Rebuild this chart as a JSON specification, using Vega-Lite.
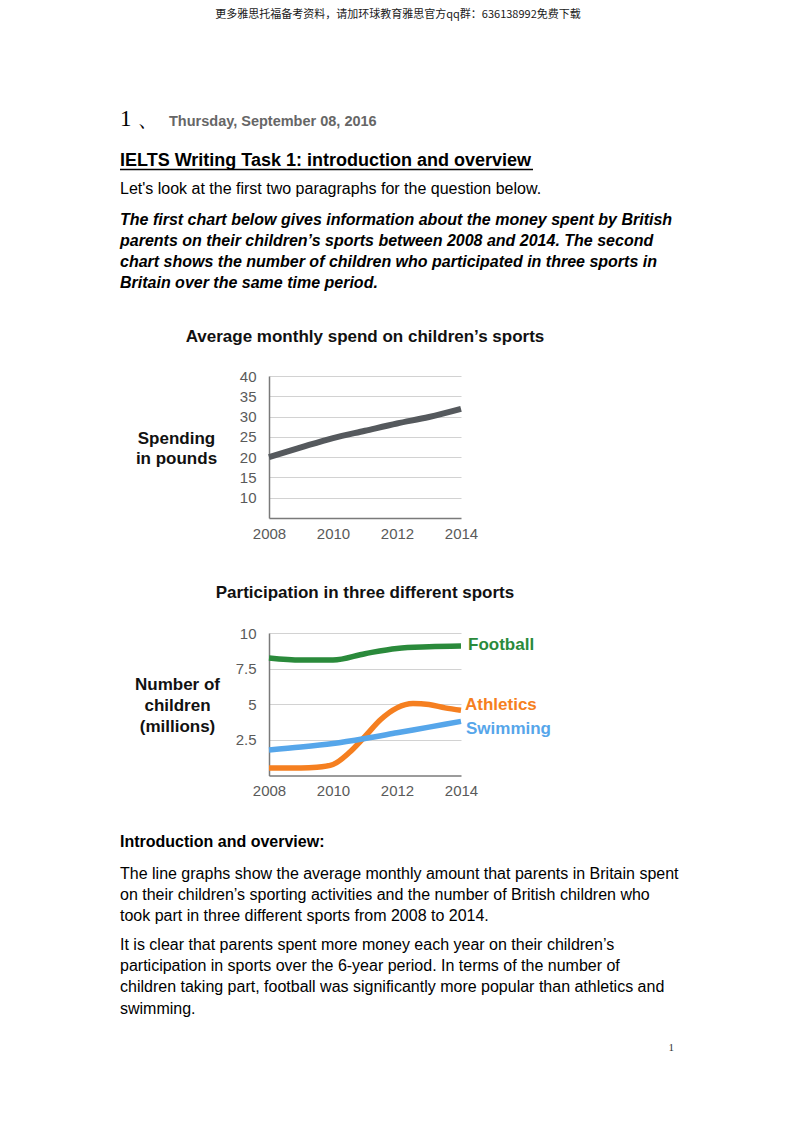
{
  "$schema": "https://vega.github.io/schema/vega-lite/v6.json",
  "autosize": {"type": "pad"},
  "padding": {"left": 119, "top": 9, "right": 0, "bottom": 0},
  "background": "white",
  "columns": 2,
  "align": "each",
  "spacing": 0,
  "bounds": "flush",
  "config": {
    "view": {"stroke": null},
    "font": "Liberation Sans",
    "text": {"font": "Liberation Sans", "color": "#000000"},
    "axis": {"labelFont": "Liberation Sans", "titleFont": "Liberation Sans"},
    "title": {"font": "Liberation Sans"}
  },
  "concat": [
    {"width": 149, "height": 107.5, "data": {"values": []}, "mark": "point", "encoding": {}},
    {
      "width": 258, "height": 107.5,
      "data": {"values": [{"text": "更多雅思托福备考资料，请加环球教育雅思官方qq群：636138992免费下载"}]},
      "mark": {"type": "text", "align": "center", "baseline": "alphabetic", "font": "Noto Sans CJK SC", "fontSize": 11, "color": "#1a1a1a"},
      "encoding": {"text": {"field": "text"}, "y": {"value": 0}}
    },

    {
      "width": 149, "height": 39.5,
      "layer": [
        {
          "data": {"values": [{"text": "1  、"}]},
          "mark": {"type": "text", "align": "left", "baseline": "alphabetic", "font": "Liberation Serif", "fontSize": 23, "color": "#000000"},
          "encoding": {"text": {"field": "text"}, "x": {"value": 0}, "y": {"value": 0}}
        },
        {
          "data": {"values": [{"text": "Thursday, September 08, 2016"}]},
          "mark": {"type": "text", "align": "left", "baseline": "alphabetic", "dx": 49, "fontSize": 14.5, "fontWeight": "bold", "color": "#666666"},
          "encoding": {"text": {"field": "text"}, "x": {"value": 0}, "y": {"value": 0}}
        }
      ]
    },
    {"width": 1, "height": 1, "data": {"values": []}, "mark": "point", "encoding": {}},

    {
      "width": 149, "height": 28,
      "data": {"values": [{"text": "IELTS Writing Task 1: introduction and overview"}]},
      "layer": [
        {
          "mark": {"type": "text", "align": "left", "baseline": "alphabetic", "fontSize": 18, "fontWeight": "bold", "color": "#000000"},
          "encoding": {"text": {"field": "text"}, "x": {"value": 0}, "y": {"value": 0}}
        },
        {
          "mark": {"type": "rule", "color": "#000000", "strokeWidth": 1.5, "yOffset": 3.5},
          "encoding": {"x": {"value": 0}, "x2": {"value": "width"}, "y": {"value": 0}}
        }
      ]
    },
    {
      "width": 264, "height": 28,
      "data": {"values": [{"text": "IELTS Writing Task 1: introduction and overview"}]},
      "mark": {"type": "rule", "color": "#000000", "strokeWidth": 1.5, "yOffset": 3.5},
      "encoding": {"x": {"value": 0}, "x2": {"value": "width"}, "y": {"value": 0}}
    },

    {
      "width": 149, "height": 31,
      "data": {"values": [{"text": "Let's look at the first two paragraphs for the question below."}]},
      "mark": {"type": "text", "align": "left", "baseline": "alphabetic", "fontSize": 16, "color": "#000000"},
      "encoding": {"text": {"field": "text"}, "x": {"value": 0}, "y": {"value": 0}}
    },
    {"width": 1, "height": 1, "data": {"values": []}, "mark": "point", "encoding": {}},

    {
      "width": 149, "height": 151,
      "data": {"values": [{"text": "The first chart below gives information about the money spent by British\nparents on their children’s sports between 2008 and 2014. The second\nchart shows the number of children who participated in three sports in\nBritain over the same time period."}]},
      "mark": {"type": "text", "align": "left", "baseline": "alphabetic", "fontSize": 16, "fontWeight": "bold", "fontStyle": "italic", "lineBreak": "\n", "lineHeight": 21, "color": "#000000"},
      "encoding": {"text": {"field": "text"}, "x": {"value": 0}, "y": {"value": 0}}
    },
    {"width": 1, "height": 1, "data": {"values": []}, "mark": "point", "encoding": {}},

    {"width": 149, "height": 256.7, "data": {"values": []}, "mark": "point", "encoding": {}},
    {
      "width": 192, "height": 142,
      "title": {"text": "Average monthly spend on children’s sports", "frame": "group", "anchor": "middle", "fontSize": 17, "fontWeight": "bold", "color": "#111111", "baseline": "alphabetic", "offset": 10},
      "data": {"values": [
        {"year": 2008, "spend": 20.0},
        {"year": 2009, "spend": 22.4},
        {"year": 2010, "spend": 24.7},
        {"year": 2011, "spend": 26.5},
        {"year": 2012, "spend": 28.3},
        {"year": 2013, "spend": 29.9},
        {"year": 2014, "spend": 31.9}
      ]},
      "mark": {"type": "line", "color": "#55595d", "strokeWidth": 6, "interpolate": "monotone"},
      "encoding": {
        "x": {"field": "year", "type": "quantitative", "scale": {"domain": [2008, 2014], "nice": false, "zero": false},
          "axis": {"values": [2008, 2010, 2012, 2014], "format": "d", "title": null, "grid": false, "ticks": false, "labelFlush": false, "labelPadding": 8, "labelFontSize": 15, "labelColor": "#5a5a5a", "domainColor": "#7a7a7a", "domainWidth": 1.5}},
        "y": {"field": "spend", "type": "quantitative", "scale": {"domain": [5, 40], "nice": false, "zero": false},
          "axis": {"values": [10, 15, 20, 25, 30, 35, 40], "format": "d", "title": ["Spending", "in pounds"], "titleAngle": 0, "titleAlign": "center", "titleBaseline": "middle", "titleX": -93, "titleY": 62.3, "titleFontSize": 17, "titleFontWeight": "bold", "titleColor": "#111111", "titleLineHeight": 20.5, "grid": true, "gridColor": "#d2d2d2", "gridWidth": 1, "ticks": false, "labelFlush": false, "labelPadding": 13, "labelFontSize": 15, "labelColor": "#5a5a5a", "domainColor": "#7a7a7a", "domainWidth": 1.5}}
      }
    },

    {"width": 149, "height": 213.6, "data": {"values": []}, "mark": "point", "encoding": {}},
    {
      "width": 192, "height": 142.6,
      "title": {"text": "Participation in three different sports", "frame": "group", "anchor": "middle", "fontSize": 17, "fontWeight": "bold", "color": "#111111", "baseline": "alphabetic", "offset": 11},
      "data": {"values": [
        {"year": 2008, "sport": "Football", "value": 8.25},
        {"year": 2009, "sport": "Football", "value": 8.1},
        {"year": 2010, "sport": "Football", "value": 8.1},
        {"year": 2011, "sport": "Football", "value": 8.55},
        {"year": 2012, "sport": "Football", "value": 8.92},
        {"year": 2013, "sport": "Football", "value": 9.03},
        {"year": 2014, "sport": "Football", "value": 9.08},
        {"year": 2008, "sport": "Athletics", "value": 0.53},
        {"year": 2009, "sport": "Athletics", "value": 0.53},
        {"year": 2009.5, "sport": "Athletics", "value": 0.58},
        {"year": 2010, "sport": "Athletics", "value": 0.78},
        {"year": 2010.5, "sport": "Athletics", "value": 1.6},
        {"year": 2011, "sport": "Athletics", "value": 2.75},
        {"year": 2011.5, "sport": "Athletics", "value": 3.95},
        {"year": 2012, "sport": "Athletics", "value": 4.75},
        {"year": 2012.5, "sport": "Athletics", "value": 5.05},
        {"year": 2013, "sport": "Athletics", "value": 4.98},
        {"year": 2013.5, "sport": "Athletics", "value": 4.75},
        {"year": 2014, "sport": "Athletics", "value": 4.58},
        {"year": 2008, "sport": "Swimming", "value": 1.8},
        {"year": 2009, "sport": "Swimming", "value": 2.0},
        {"year": 2010, "sport": "Swimming", "value": 2.25},
        {"year": 2011, "sport": "Swimming", "value": 2.6},
        {"year": 2012, "sport": "Swimming", "value": 3.0},
        {"year": 2013, "sport": "Swimming", "value": 3.4},
        {"year": 2014, "sport": "Swimming", "value": 3.8}
      ]},
      "encoding": {
        "x": {"field": "year", "type": "quantitative", "scale": {"domain": [2008, 2014], "nice": false, "zero": false},
          "axis": {"values": [2008, 2010, 2012, 2014], "format": "d", "title": null, "grid": false, "ticks": false, "labelFlush": false, "labelPadding": 8, "labelFontSize": 15, "labelColor": "#5a5a5a", "domainColor": "#7a7a7a", "domainWidth": 1.5}},
        "y": {"field": "value", "type": "quantitative", "scale": {"domain": [0, 10], "nice": false, "zero": false},
          "axis": {"values": [2.5, 5, 7.5, 10], "labelExpr": "'' + datum.value", "title": ["Number of", "children", "(millions)"], "titleAngle": 0, "titleAlign": "center", "titleBaseline": "middle", "titleX": -92, "titleY": 51.8, "titleFontSize": 17, "titleFontWeight": "bold", "titleColor": "#111111", "titleLineHeight": 21, "grid": true, "gridColor": "#d2d2d2", "gridWidth": 1, "ticks": false, "labelFlush": false, "labelPadding": 13, "labelFontSize": 15, "labelColor": "#5a5a5a", "domainColor": "#7a7a7a", "domainWidth": 1.5}},
        "color": {"field": "sport", "type": "nominal", "scale": {"domain": ["Football", "Athletics", "Swimming"], "range": ["#2a8a3b", "#f57f20", "#56a6ea"]}, "legend": null}
      },
      "layer": [
        {"mark": {"type": "line", "strokeWidth": 5.5, "interpolate": "monotone"}},
        {
          "transform": [{"filter": "datum.year == 2014 && datum.sport == 'Football'"}],
          "mark": {"type": "text", "align": "left", "baseline": "middle", "dx": 7, "dy": -1, "fontSize": 17, "fontWeight": "bold"},
          "encoding": {"text": {"field": "sport"}}
        },
        {
          "transform": [{"filter": "datum.year == 2014 && datum.sport == 'Athletics'"}],
          "mark": {"type": "text", "align": "left", "baseline": "middle", "dx": 4, "dy": -5.5, "fontSize": 17, "fontWeight": "bold"},
          "encoding": {"text": {"field": "sport"}}
        },
        {
          "transform": [{"filter": "datum.year == 2014 && datum.sport == 'Swimming'"}],
          "mark": {"type": "text", "align": "left", "baseline": "middle", "dx": 5, "dy": 7.5, "fontSize": 17, "fontWeight": "bold"},
          "encoding": {"text": {"field": "sport"}}
        }
      ]
    },

    {
      "width": 149, "height": 31.5,
      "data": {"values": [{"text": "Introduction and overview:"}]},
      "mark": {"type": "text", "align": "left", "baseline": "alphabetic", "fontSize": 16, "fontWeight": "bold", "color": "#000000"},
      "encoding": {"text": {"field": "text"}, "x": {"value": 0}, "y": {"value": 0}}
    },
    {"width": 1, "height": 1, "data": {"values": []}, "mark": "point", "encoding": {}},

    {
      "width": 149, "height": 71,
      "data": {"values": [{"text": "The line graphs show the average monthly amount that parents in Britain spent\non their children’s sporting activities and the number of British children who\ntook part in three different sports from 2008 to 2014."}]},
      "mark": {"type": "text", "align": "left", "baseline": "alphabetic", "fontSize": 16, "lineBreak": "\n", "lineHeight": 21.1, "color": "#000000"},
      "encoding": {"text": {"field": "text"}, "x": {"value": 0}, "y": {"value": 0}}
    },
    {"width": 1, "height": 1, "data": {"values": []}, "mark": "point", "encoding": {}},

    {
      "width": 149, "height": 101,
      "data": {"values": [{"text": "It is clear that parents spent more money each year on their children’s\nparticipation in sports over the 6-year period. In terms of the number of\nchildren taking part, football was significantly more popular than athletics and\nswimming."}]},
      "mark": {"type": "text", "align": "left", "baseline": "alphabetic", "fontSize": 16, "lineBreak": "\n", "lineHeight": 21.2, "color": "#000000"},
      "encoding": {"text": {"field": "text"}, "x": {"value": 0}, "y": {"value": 0}}
    },
    {"width": 1, "height": 1, "data": {"values": []}, "mark": "point", "encoding": {}},

    {"width": 149, "height": 10, "data": {"values": []}, "mark": "point", "encoding": {}},
    {
      "width": 405, "height": 10,
      "data": {"values": [{"text": "1"}]},
      "mark": {"type": "text", "align": "right", "baseline": "alphabetic", "font": "Liberation Serif", "fontSize": 11, "color": "#333333"},
      "encoding": {"text": {"field": "text"}, "x": {"value": "width"}, "y": {"value": 0}}
    }
  ]
}
